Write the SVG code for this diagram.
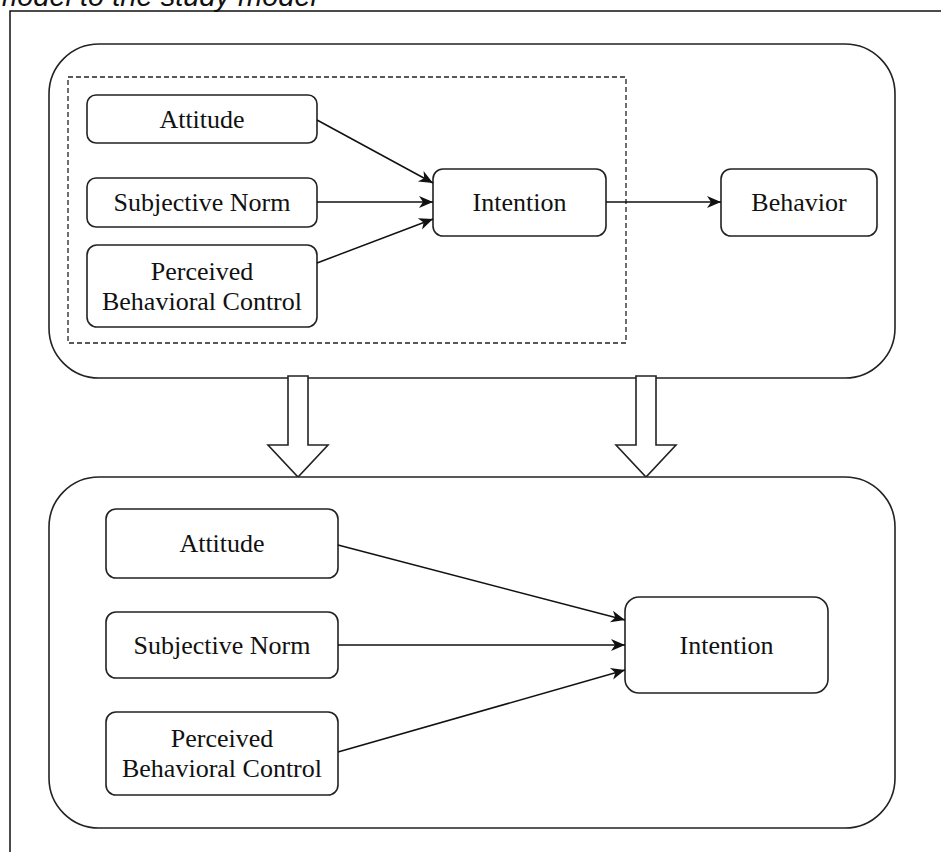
<svg xmlns="http://www.w3.org/2000/svg" width="941" height="852" viewBox="0 0 941 852">
<style>
.bg{fill:#fff}
.frame{fill:none;stroke:#111;stroke-width:1.5}
.cont{fill:#fff;stroke:#222;stroke-width:1.6}
.dash{fill:none;stroke:#222;stroke-width:1.3;stroke-dasharray:5 3}
.box{fill:#fff;stroke:#222;stroke-width:1.6}
.lbl{font-family:"Liberation Serif","Times New Roman",serif;font-size:26px;fill:#111;text-anchor:middle}
.title{font-family:"Liberation Sans",Arial,sans-serif;font-size:29px;font-style:italic;fill:#111}
.edge{fill:none;stroke:#111;stroke-width:1.5;marker-end:url(#ah)}
.blk{fill:#fff;stroke:#222;stroke-width:1.6;stroke-linejoin:miter}
</style>
<defs>
<marker id="ah" markerUnits="userSpaceOnUse" markerWidth="15" markerHeight="12" refX="14" refY="6" orient="auto" overflow="visible">
<path d="M0,0 L14,6 L0,12 L4,6 Z" fill="#111" stroke="none"/>
</marker>
</defs>
<rect class="bg" x="0" y="0" width="941" height="852"/>
<text class="title" x="-7" y="6">model to the study model</text>
<path class="frame" d="M10,852 V11 H941"/>

<g id="top-container">
<rect class="cont" x="49" y="44" width="846" height="334" rx="50" ry="50"/>
<rect class="dash" x="68" y="77" width="558" height="266"/>
</g>

<g id="block-arrows">
<polygon class="blk" points="288,376 308,376 308,445 328,445 298,477 268,445 288,445"/>
<polygon class="blk" points="636,376 656,376 656,445 676,445 646,477 616,445 636,445"/>
</g>

<g id="bottom-container">
<rect class="cont" x="49" y="477" width="846" height="351" rx="50" ry="50"/>
</g>

<g id="t-attitude">
<rect class="box" x="87" y="95" width="230" height="48" rx="9"/>
<text class="lbl" x="202" y="128">Attitude</text>
</g>
<g id="t-norm">
<rect class="box" x="87" y="178" width="230" height="49" rx="9"/>
<text class="lbl" x="202" y="211">Subjective Norm</text>
</g>
<g id="t-pbc">
<rect class="box" x="87" y="245" width="230" height="82" rx="10"/>
<text class="lbl" x="202" y="280">Perceived</text>
<text class="lbl" x="202" y="310">Behavioral Control</text>
</g>
<g id="t-intention">
<rect class="box" x="433" y="169" width="173" height="67" rx="10"/>
<text class="lbl" x="519.5" y="211">Intention</text>
</g>
<g id="t-behavior">
<rect class="box" x="721" y="169" width="156" height="67" rx="10"/>
<text class="lbl" x="799" y="211">Behavior</text>
</g>

<g id="b-attitude">
<rect class="box" x="106" y="509" width="232" height="69" rx="10"/>
<text class="lbl" x="222" y="552">Attitude</text>
</g>
<g id="b-norm">
<rect class="box" x="106" y="612" width="232" height="66" rx="10"/>
<text class="lbl" x="222" y="654">Subjective Norm</text>
</g>
<g id="b-pbc">
<rect class="box" x="106" y="712" width="232" height="83" rx="10"/>
<text class="lbl" x="222" y="747">Perceived</text>
<text class="lbl" x="222" y="777">Behavioral Control</text>
</g>
<g id="b-intention">
<rect class="box" x="625" y="597" width="203" height="96" rx="14"/>
<text class="lbl" x="726.5" y="654">Intention</text>
</g>

<g id="connectors">
<line class="edge" x1="317" y1="120" x2="433" y2="183"/>
<line class="edge" x1="317" y1="202" x2="433" y2="202"/>
<line class="edge" x1="317" y1="263" x2="433" y2="219"/>
<line class="edge" x1="606" y1="202" x2="721" y2="202"/>
<line class="edge" x1="338" y1="545" x2="625" y2="620"/>
<line class="edge" x1="338" y1="645" x2="625" y2="645"/>
<line class="edge" x1="338" y1="752" x2="625" y2="670"/>
</g>
</svg>
